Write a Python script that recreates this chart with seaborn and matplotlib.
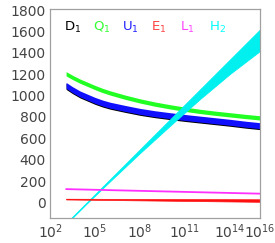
import numpy as np
import pandas as pd
import seaborn as sns
import matplotlib.pyplot as plt
from matplotlib.ticker import FixedLocator, FixedFormatter, NullFormatter

log_q = [3.07, 3.5, 4.0, 4.5, 5.0, 5.5, 6.0, 7.0, 8.0, 9.0, 10.0, 11.0, 12.0, 13.0, 14.0, 15.0, 16.1]
q1_mid = [1204, 1170, 1135, 1105, 1075, 1048, 1025, 985, 950, 920, 895, 872, 852, 835, 820, 805, 790]
u1_mid = [1095, 1055, 1015, 985, 955, 930, 910, 880, 852, 830, 812, 795, 780, 765, 750, 733, 717]
d1_mid = [1086, 1046, 1006, 976, 946, 921, 901, 871, 843, 821, 803, 786, 771, 756, 741, 724, 708]

log_h = [3.0, 4.5, 6.0, 8.0, 10.0, 12.0, 14.0, 16.1]
h2_top = [-203, 7, 217, 497, 777, 1057, 1337, 1631]
h2_bot = [-212, -3, 198, 462, 717, 967, 1202, 1427]

log_l = [3.07, 16.1]
l1_mid = [125, 82]
e1_top = [35, 30]
e1_bot = [28, 6]

labels = ["D$_1$", "Q$_1$", "U$_1$", "E$_1$", "L$_1$", "H$_2$"]
label_colors = ["black", "#33ff33", "#2020ff", "#ff4444", "#ff44ff", "#00ffff"]

xtick_pow = [2, 5, 8, 11, 14, 16]

sns.set_style("white")
plt.rcParams['font.family'] = ['DejaVu Sans']

fig = plt.figure(figsize=(2.75, 2.43), dpi=100)
ax = fig.add_axes([0.182, 0.103, 0.763, 0.860])

xq = 10.0 ** np.array(log_q)
ax.fill_between(xq, np.array(d1_mid) - 28, np.array(d1_mid) + 28, color="black", lw=0)
ax.fill_between(xq, np.array(u1_mid) - 28, np.array(u1_mid) + 28, color="#1010ff", lw=0)
ax.fill_between(xq, np.array(q1_mid) - 20, np.array(q1_mid) + 20, color="#22ff22", lw=0)

xh = 10.0 ** np.array(log_h)
ax.fill_between(xh, h2_bot, h2_top, color="#00f0f0", lw=0.6, edgecolor="#00f0f0")

xl = 10.0 ** np.array(log_l)
ax.fill_between(xl, e1_bot, e1_top, color="#ff1010", lw=0.5, edgecolor="#ff1010")
df_l = pd.DataFrame({"x": xl, "y": l1_mid})
sns.lineplot(data=df_l, x="x", y="y", ax=ax, color="#ff30ff", lw=1.3)

ax.set_xscale("log")
ax.set_xlim(1e2, 10 ** 16.0)
ax.set_ylim(-145, 1810)
ax.set_xlabel("")
ax.set_ylabel("")

ax.xaxis.set_major_locator(FixedLocator([10.0 ** p for p in xtick_pow]))
ax.xaxis.set_major_formatter(FixedFormatter(["$10^{%d}$" % p for p in xtick_pow]))
ax.xaxis.set_minor_locator(FixedLocator([10.0 ** (p + 0.5) for p in range(2, 16)] +
                                        [10.0 ** p for p in range(2, 17)]))
ax.xaxis.set_minor_formatter(NullFormatter())
ax.set_yticks(np.arange(0, 1801, 200))
ax.set_yticks(np.arange(-100, 1801, 50), minor=True)

ax.tick_params(which="major", direction="in", length=8, width=0.8, color="#999999",
               labelsize=10, labelcolor="#444444", pad=3)
ax.tick_params(which="minor", direction="in", length=4, width=0.8, color="#aaaaaa")
ax.tick_params(axis="x", which="major", length=6)
ax.tick_params(axis="x", which="minor", length=3)
for s in ax.spines.values():
    s.set_color("#a0a0a0")
    s.set_linewidth(0.9)

for i, (lab, c) in enumerate(zip(labels, label_colors)):
    ax.text(0.067 + i * 0.138, 0.914, lab, color=c, fontsize=9.5,
            transform=ax.transAxes, va="center", ha="left")

fig.savefig("out.png", dpi=100)
